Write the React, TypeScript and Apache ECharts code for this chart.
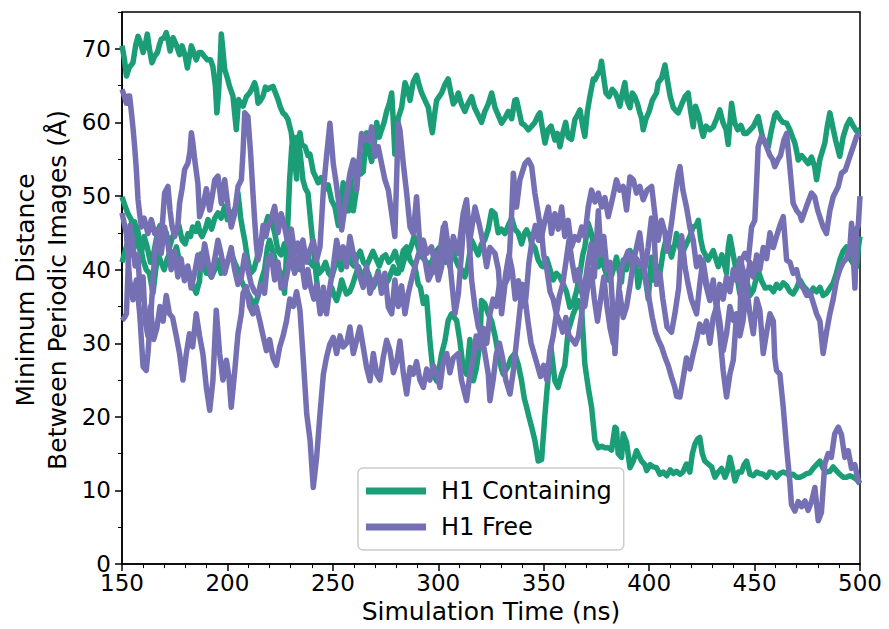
import React, { useEffect, useRef } from "react";
import * as echarts from "echarts";

// ---- Data (time in ns, distance in Å) ----
const containingA: [number, number][] = [
  [150, 70.4], [151.2, 68.5], [152.1, 66.3], [153.5, 67.5], [155.2, 68.1], [156.5, 70.5], [157.6, 71.7], [158.8, 70.8],
  [160, 69.5], [161, 70.5], [162, 72], [163, 70], [164.2, 68.1], [165.5, 69], [166.8, 69.5], [167.7, 70.5], [168.6, 71.3],
  [170, 71.5], [171, 72.2], [172, 71], [172.8, 69.7], [173.5, 70.5], [174.2, 71.5], [175.8, 70.5], [177.3, 69.2],
  [178.5, 70.4], [180, 69], [181, 67.4], [182, 69], [182.9, 70.4], [184, 69.5], [185.2, 68.5], [186.5, 69.5],
  [187.6, 69.5], [189, 69], [190.5, 68.5], [192, 68.5], [193.1, 67.6], [194.3, 64.9], [195, 61.3], [195.8, 64],
  [196.5, 68], [197.1, 72], [197.8, 70], [198.7, 67.2], [200, 66], [201, 64.9], [202.6, 63.6], [203.5, 61], [204.2, 59],
  [205.3, 63.1], [206.5, 62.5], [207.4, 62.2], [209, 63.5], [210.5, 64], [211.5, 64.5], [212.9, 65.4], [213.8, 64.5],
  [214.5, 62.6], [215.7, 63], [216.9, 63.6], [218, 64.8], [219.2, 64.5], [220.2, 64.7], [221.6, 64.9], [222.8, 64],
  [224, 63.1], [225.2, 62], [226.3, 61.3], [227.5, 61], [228.7, 60.4], [230.3, 58.6], [231.2, 56], [231.9, 54.9],
  [232.8, 52.3], [233.4, 56.7], [234.4, 58.6], [235.2, 57], [236.8, 56.7], [238.2, 55.5], [239.1, 55.7], [240.7, 53.3],
  [242, 52.5], [243, 51.8], [244.5, 52.5], [246.3, 50.9], [247.8, 51.5], [249.4, 49.4], [251, 48.5], [252.6, 46],
  [254, 49], [254.9, 51.8], [256, 48], [257.3, 48], [258.1, 52.8], [259.7, 48], [261, 50.5], [262, 54.7], [263.2, 53],
  [264.4, 53.3], [265.2, 56], [266, 58.6], [267.2, 56], [268.4, 54.7], [269.6, 57], [270.8, 60], [272, 58], [273.1, 59],
  [274.3, 60], [275.5, 61.5], [276.7, 62.5], [277.9, 64], [278.7, 60], [279.4, 55.7], [280.2, 58], [281, 60.6],
  [282.6, 62], [284.2, 65.4], [285.4, 64.5], [286.6, 63], [288.1, 65.5], [289.7, 66.4], [291, 65], [292.1, 64],
  [293.7, 63], [295.3, 62], [296.3, 60], [297.2, 58.6], [298.2, 61], [299.2, 63], [300.4, 63.5], [301.6, 64],
  [303.2, 65.2], [304.7, 65.9], [306, 64], [307.1, 62.5], [308.3, 63], [309.5, 64], [311, 62.5], [312.6, 61.5],
  [314, 62.5], [315.8, 63.5], [317.2, 62], [318.9, 61], [320.5, 60], [322.1, 61.5], [323.7, 62.5], [325.3, 64],
  [326.9, 62], [328.4, 61], [330, 59.9], [331.6, 60.6], [333.2, 61.5], [334.8, 60.5], [336.3, 63], [337.1, 63.1],
  [338.7, 61], [339.5, 59.9], [341, 59.6], [342.7, 59], [344.3, 59.5], [345.8, 60], [347.4, 61], [348.2, 61.3],
  [349.5, 59], [350.6, 57.2], [352, 59], [353.5, 59.5], [355.3, 57.6], [356.5, 58.5], [357.7, 56.7], [359, 58.5],
  [360.4, 60], [361.6, 58], [363.2, 57.7], [364.8, 60.4], [366, 61], [367.2, 61.7], [368.5, 59.5], [369.5, 58.1],
  [370.7, 61.5], [371.9, 63.5], [373.5, 65.9], [374.3, 65.8], [375.5, 66.5], [376.6, 67], [377.4, 68.3], [378.5, 66],
  [379.5, 64], [381, 63.5], [382.5, 64.5], [384, 64], [385.3, 63], [386.1, 62.2], [387.3, 64], [388.5, 65.4],
  [389.5, 63], [390.9, 62], [392, 64], [393.2, 63.5], [394.5, 62.5], [395.6, 61.3], [396.4, 60.6], [397.2, 59],
  [398.5, 60.5], [400, 61.5], [401.5, 63], [403.5, 64], [404.3, 65.4], [405.9, 66], [407.5, 67.8], [408.5, 66],
  [410, 63.5], [411.5, 62], [413, 61.5], [413.8, 61.3], [415.5, 62.5], [417, 63.5], [418.5, 64], [419.7, 61.5],
  [420.9, 59.4], [422, 62.2], [423.5, 61], [424.8, 59], [425.6, 58.1], [427, 59.5], [428.8, 59], [430.4, 59.4],
  [432, 60.5], [433.5, 61.7], [435, 60], [436.5, 59], [437.5, 57], [438.3, 60], [439.1, 62.6], [440.5, 60], [442, 59],
  [443.5, 59.6], [445, 58.5], [446.2, 58.5], [448, 59], [449.5, 59.5], [451.7, 60.8], [453, 59], [454.1, 57.6],
  [455.3, 57], [456.5, 56.7], [458, 59], [459.6, 61], [460.4, 61.3], [462, 60.5], [463.5, 60], [465.2, 59.9],
  [466.7, 59], [468, 58], [469.1, 57.2], [470, 56], [470.7, 54.9], [472.3, 55.5], [473.8, 55], [475.4, 54.4],
  [477, 55.3], [478.5, 54], [479.4, 52.2], [481, 55], [483.3, 57.2], [484.5, 59.5], [485.7, 61.3], [487, 59.5],
  [488.5, 57.5], [490.4, 55.4], [492, 58], [493.6, 59.5], [495.2, 60.4], [496.8, 59.5], [498.4, 58.8], [500, 59],
];

const containingB: [number, number][] = [
  [150, 49.9], [151.5, 48.6], [153, 47.5], [154.4, 46.8], [155.5, 44], [156, 43.1], [157.2, 45.8], [158.5, 43.5],
  [160, 41.3], [161.5, 40], [163, 39.5], [164.7, 36.8], [166, 40], [167, 42.2], [168.5, 41], [170, 40], [171.5, 41.5],
  [173, 42.5], [174.5, 42], [175.8, 43.1], [177, 41.5], [178.5, 40], [180, 39], [181.5, 40], [183.5, 38], [185.2, 36.8],
  [186.8, 38.5], [187.6, 42.2], [189, 40.5], [190, 39.5], [191.5, 39.5], [192.4, 39], [194, 40], [195.5, 41.3],
  [197, 39.5], [198.5, 40], [200.3, 41.3], [201.8, 42.2], [203.4, 41], [205, 40], [206.6, 38.5], [208.2, 37.5],
  [209.7, 36.8], [211.3, 35.9], [212.9, 35], [214.5, 36.4], [216, 38.5], [217.6, 40], [219, 43], [220, 44],
  [221.5, 42.5], [223, 41], [224.3, 40], [225.5, 39.5], [227.1, 36.8], [228.3, 44], [229.5, 52.2], [230.5, 56.7],
  [231.5, 58], [232.5, 57], [233.4, 58], [234.4, 56], [235.8, 52.2], [237, 51], [238.2, 50.4], [239.5, 46.5],
  [240.7, 43.1], [242.3, 38.6], [243.9, 34.9], [245.5, 34.5], [247, 35.8], [248.2, 36.5], [249.4, 37.6], [250.6, 36.5],
  [251.8, 35.8], [253, 37], [254.2, 38.6], [255.4, 37.5], [256.5, 36.7], [258, 37], [259.4, 38], [260.5, 39],
  [262.1, 40.4], [263.2, 39.5], [264.4, 39], [265.6, 40], [266.8, 39.5], [268, 38.5], [269.2, 37.6], [270.5, 38.5],
  [271.5, 39.8], [272.7, 38.2], [273.9, 37.6], [275, 38], [276.3, 38.6], [277.5, 39.5], [278.7, 40.4], [279.9, 39.5],
  [281, 39.5], [282.2, 41], [283.4, 42.6], [285, 43.1], [286.6, 41.3], [288.9, 40.4], [290.5, 38], [291.5, 37.6],
  [292.9, 35.4], [294.4, 36.3], [296, 30.4], [297.6, 25.8], [299.2, 24.9], [300.4, 26.5], [301.6, 28.6], [303.2, 30.4],
  [304.7, 33.1], [306.3, 34], [307.5, 33.5], [308.7, 33.1], [310.2, 30.4], [311.8, 26.7], [313.4, 25.8], [315, 30.5],
  [316.6, 24.9], [318, 26.5], [319.75, 30], [320.5, 35.8], [322, 35.4], [323.7, 34], [325.3, 33], [326.9, 31],
  [328.4, 28.6], [330, 26.5], [330.8, 25.8], [333, 26.8], [334.5, 28], [336.3, 28.6], [338, 27], [339.5, 24.9],
  [340.8, 22.5], [341.9, 21.3], [343, 20], [344.3, 18.6], [345.8, 16.8], [347.4, 14], [349, 14.2], [350.6, 20.4],
  [352.2, 25.8], [353.4, 29.5], [355.3, 24.9], [356.8, 24], [358.5, 25.8], [360, 27], [361.6, 31.7], [363, 33],
  [364, 34], [365.5, 35], [366.4, 35.8], [368, 34.5], [369.5, 27.2], [371.1, 24], [372.7, 21.3], [374.3, 16.8],
  [375.9, 15.8], [377.5, 16], [379, 15.8], [380.6, 15.8], [382.2, 15.5], [383.8, 18.6], [384.5, 18.4], [385.3, 15],
  [386.9, 14.5], [387.7, 17.7], [389.3, 16.5], [390.9, 13.1], [392.5, 14], [394, 15.4], [395.5, 14.5], [396.4, 14],
  [398, 13.5], [398.8, 12.7], [400.5, 13.5], [402, 13.2], [403.5, 13.1], [405.1, 12.2], [406.7, 12.5], [408.3, 12],
  [410, 12.8], [411.5, 12.3], [413, 12.6], [414.6, 12.2], [416, 12.5], [417.7, 13.6], [419.3, 12.5], [420.5, 15],
  [421.7, 16.3], [423, 17], [424, 17.2], [425.2, 15], [426.4, 14], [428, 13.6], [429.6, 13.2], [431.2, 11.8],
  [432.8, 12.5], [434.4, 13], [436, 11.8], [437, 12.5], [438.3, 14.5], [439.5, 13], [440.7, 11.3], [442.3, 12.5],
  [443.8, 12.5], [445, 13.5], [446.2, 14], [447.8, 12.2], [449.4, 12], [451, 12.5], [452.5, 12.3], [454.1, 12.2],
  [455.7, 11.8], [457.3, 12.5], [458.9, 12.4], [460.4, 11.8], [462, 12.3], [463.6, 12.5], [465.2, 12.3], [466.8, 12],
  [468.3, 12.2], [469.9, 11.8], [471.5, 11.8], [473.1, 12], [474.7, 12.3], [476.2, 12.4], [477.8, 13], [479.4, 13.5],
  [481, 14], [482.5, 13], [484.1, 12.5], [485.7, 12.6], [487.3, 13.2], [488.8, 12.7], [490.4, 12.2], [492, 11.8],
  [493.6, 11.8], [495.2, 12], [496.8, 11.8], [498.4, 11.5], [500, 10.9],
];

const containingC: [number, number][] = [
  [150, 41], [151.5, 42.5], [153, 44], [154.5, 45.5], [156, 46.5], [157.5, 44], [159, 42], [160.5, 44.5], [162, 43],
  [163.5, 41], [165, 42.2], [166.5, 44.5], [168, 46], [169.5, 44], [171, 45], [172.5, 43], [174, 44.5], [175.5, 45],
  [177, 46], [178.5, 44], [180, 43.5], [181.3, 44.9], [182.5, 44.5], [183.5, 45.8], [185, 45.2], [186, 46.3], [187, 45],
  [188, 44.5], [189.5, 45.5], [190.8, 46.8], [192.5, 45.5], [194, 47], [195.5, 47.7], [197, 47], [198.7, 48.6],
  [200, 46.8], [201.5, 47.5], [203.4, 48.1], [204.5, 49], [205, 50.4], [206.3, 47], [207.2, 45.5], [208.2, 44],
  [209.5, 41.5], [211, 39.5], [212.5, 40], [214, 41.5], [215.5, 43], [217, 45], [218.5, 46.5], [219.2, 47.2],
  [220.8, 46.8], [222.4, 45], [224, 42.5], [225.5, 42], [227, 43.5], [228.5, 42], [230, 41], [231.5, 40], [233, 41.5],
  [234.5, 40], [236, 41.5], [237.5, 42.5], [239, 41], [240.5, 40.5], [242, 41.5], [243.5, 39.5], [245, 40], [246.5, 41],
  [248, 39.5], [249.5, 39], [251, 40.5], [252.5, 41.5], [254, 40], [255.5, 41.5], [257, 42.5], [258.5, 41], [260, 40.5],
  [261.5, 41.8], [263, 42.5], [264.5, 41], [266, 40.5], [267.5, 41.5], [269, 42.5], [270.5, 41.5], [272, 40.5],
  [273.5, 41.7], [275, 42], [276.5, 41], [278, 41.5], [279.5, 42.5], [281, 41], [282.5, 40], [284, 41.5], [285.5, 42],
  [287, 43], [288.5, 44.5], [290, 43.5], [291.5, 42], [293, 41.5], [294.5, 41], [296, 40.5], [297.5, 41.5], [299, 42.5],
  [300.5, 43], [302, 42], [303.5, 41], [305, 42], [306.5, 43], [308, 41.5], [309.5, 40.5], [311, 40], [312.6, 39],
  [314, 40.5], [315.8, 44], [317.4, 43], [318.9, 42], [320.5, 43.5], [322, 44], [323.7, 45.5], [325.3, 48], [326.9, 47.6],
  [328.4, 45], [330, 45.5], [331.6, 44.9], [333.2, 46], [334.8, 47], [336.3, 45.5], [337.9, 45], [339.5, 43.5], [341, 45],
  [341.9, 45.4], [343.5, 44.5], [344.2, 43.6], [345.8, 43], [347.4, 41.3], [349, 40.5], [349.8, 40.4], [351.4, 41.5],
  [353, 40], [354.5, 38.6], [356, 39.5], [357.7, 39], [359.3, 38], [360.8, 37], [362.4, 34.9], [364, 35.5], [365.5, 37],
  [367.2, 39.5], [368.5, 42], [369.5, 43.1], [371.1, 46.3], [372.5, 45], [374, 43], [375.9, 40.4], [377.5, 41.5],
  [379, 40], [380.6, 38.6], [382.2, 39.2], [383.5, 40.5], [384.5, 41.7], [386, 39.5], [386.9, 38.3], [387.7, 41.3],
  [389.3, 40], [390.9, 42.6], [392.5, 41.5], [394, 40], [394.8, 37.6], [396.4, 40], [398, 39.2], [399.6, 36],
  [401.1, 41.7], [402, 38.6], [403.5, 39], [404.3, 40.4], [405.1, 39.5], [406.7, 42.5], [408.3, 44.5], [410.6, 41.7],
  [412.2, 43.5], [413, 44.9], [415.4, 42], [417.7, 43.5], [419.3, 44.5], [420.9, 45.8], [422.3, 46], [423.3, 46.7],
  [424.5, 44], [425.6, 42.6], [428, 41.3], [430.4, 42.6], [432.8, 40.4], [434.5, 42], [436.7, 39.5], [437.5, 43],
  [438.3, 44.5], [439.9, 42], [441.5, 39.5], [443, 36.7], [444.5, 37.5], [446.2, 38.6], [447.8, 36.5], [449.4, 37.2],
  [451.7, 39.9], [453.3, 38.5], [455, 37.5], [457.3, 37.6], [459, 37], [460.4, 38], [462, 37.5], [463.6, 38.2],
  [465.2, 37.8], [466.8, 37], [468.3, 36.7], [469.9, 37.5], [471.5, 38.6], [473.1, 37.8], [474.7, 37.3], [476.2, 36.5],
  [477.8, 37.5], [479.4, 37], [481, 37.6], [482.5, 36.5], [484.1, 36.8], [485.7, 37.5], [487.3, 38.2], [488.8, 39.5],
  [490.4, 41.3], [492, 42.5], [493.6, 43.1], [495.2, 41.5], [496.8, 40.8], [498.4, 40.4], [499.2, 43], [500, 44.5],
];

const freeA: [number, number][] = [
  [150, 64.5], [151.2, 63.5], [152.1, 62.6], [153, 63.6], [153.6, 63.6], [154.5, 61.3], [155.3, 59], [156, 56.7],
  [156.8, 53.6], [157.6, 49.5], [158.4, 47.5], [159.2, 45.8], [160.5, 47], [162.3, 44.9], [163.9, 46.8], [165.5, 44.9],
  [167, 45.5], [168.6, 44], [170.2, 50.4], [171.8, 51.3], [172.8, 48], [173.7, 46], [175, 44.5], [176.5, 46], [177.3, 49],
  [178.5, 51], [179.7, 53.6], [181.3, 54.5], [182.2, 56], [182.9, 58.6], [183.7, 57], [184.5, 54.9], [186, 51.7],
  [186.8, 47.2], [188.4, 48.6], [190, 51], [191.6, 48.1], [192.8, 50], [194, 52.2], [195.5, 52.7], [197.1, 49],
  [198.7, 52.2], [200.3, 48.5], [201.8, 45.8], [203.4, 47.6], [205, 51.3], [206.6, 52.2], [207.4, 56], [208.2, 61.3],
  [209.7, 60.8], [211, 55.8], [212.1, 50.4], [212.9, 46.8], [213.7, 43.5], [214.5, 41.3], [215.5, 42.5], [216.9, 46],
  [218.2, 44.5], [219.2, 45.8], [220.8, 47], [222.4, 48.6], [224, 45], [225.5, 47.6], [227.1, 45.8], [228.7, 43.5],
  [230.3, 45.5], [231.9, 42.2], [233.4, 43.6], [234.2, 42.7], [235.8, 44], [237.6, 41], [239, 42.5], [240.7, 44],
  [242.3, 41.3], [243.9, 43.1], [245.5, 50.8], [247, 55.4], [248.6, 59.9], [250.2, 54.4], [251.8, 51.3], [253.4, 47.6],
  [254.2, 45.4], [255.7, 48.5], [258.1, 53.1], [259.7, 54.9], [261.3, 50.8], [262.5, 55], [263.6, 58.5], [264.8, 57.5],
  [266, 58.1], [267.2, 57.5], [268.4, 59.4], [270, 55.4], [271.5, 56.7], [273.1, 54.4], [274.7, 52.2], [276.3, 50.8],
  [277.9, 47.6], [279.4, 44.5], [280.2, 52], [281, 59.9], [281.8, 59], [283.4, 54.4], [285, 50.4], [286.6, 45.8],
  [288.1, 44.9], [289.7, 49.9], [291.3, 43.1], [292.9, 44], [294.5, 42.2], [296.8, 43.1], [299.2, 39.5], [300.8, 42.2],
  [302.4, 45.8], [304, 42.2], [305.5, 40.4], [307.1, 44.5], [309.5, 42.2], [311.8, 47.6], [313.4, 49.5], [315, 44],
  [317.4, 48.5], [319.7, 45.8], [321, 44], [322.9, 40.4], [324.5, 43], [326.9, 42.2], [328.5, 40], [330, 34], [331.6, 38],
  [333.2, 39], [334.8, 47.6], [335.6, 53.1], [337.1, 48.5], [338.7, 52.2], [341.1, 54.4], [342.7, 54.9], [344.3, 54],
  [345.8, 50.4], [347.4, 47.6], [349, 44.5], [350.6, 46.7], [352.2, 48.5], [353.7, 44.9], [355.3, 47.6], [356.9, 45.5],
  [358.5, 48.5], [360, 44.5], [361.6, 46.7], [363.2, 43.1], [364.8, 44.5], [366.4, 44], [368, 45.8], [369.5, 44.5],
  [371.1, 48.5], [372.7, 50.8], [374.3, 49.2], [375.9, 50.4], [377.5, 48.5], [379, 49.8], [380.6, 47.2], [382.5, 49.5],
  [384.5, 52.2], [386, 50.8], [387.7, 51.3], [389.3, 48.1], [390.9, 52.6], [392.5, 52.2], [394, 50.4], [395.6, 51.3],
  [397.2, 49.5], [399, 50.8], [401.2, 51.3], [402.7, 47.6], [404.3, 44], [405.9, 46.7], [407.5, 45], [408.5, 42.5],
  [410.6, 46.3], [412.2, 49.9], [413.8, 53.1], [414.6, 54], [416, 50.8], [417.7, 48.5], [419.3, 45.8], [420.9, 44],
  [422.5, 40.4], [424, 41.7], [425.6, 39.5], [427.2, 37.6], [428.8, 35.8], [430.4, 38.6], [432, 34.5], [433.5, 31.3],
  [435.1, 26.3], [436.7, 22.7], [438.3, 25.8], [439.9, 27.7], [441.5, 34], [443, 32.6], [443.8, 41.3], [445.4, 42.2],
  [447, 41.3], [448.6, 45.8], [450.1, 46.7], [451, 52], [451.7, 56.7], [453.3, 58.1], [454.9, 57.5], [455.7, 56.7],
  [457.3, 55.5], [458.5, 55], [459.6, 54], [461.2, 55], [462.3, 55.5], [463.9, 57.6], [465.2, 58.5], [466.7, 54],
  [468.3, 49], [470, 48], [471.5, 47.5], [472.3, 46.7], [474.5, 48.5], [477, 50.4], [478.5, 49.9], [480, 48],
  [482.5, 45.8], [484.1, 44.9], [485.7, 48], [487.3, 49.9], [489.7, 51.3], [491.2, 53.1], [493, 53.5], [495.2, 55.4],
  [496.8, 56.7], [498.4, 58.1], [500, 58.5],
];

const freeB: [number, number][] = [
  [150, 47.7], [152.1, 44.9], [153.6, 38.6], [155.2, 35.9], [156.8, 38.6], [158.4, 34], [160, 26.8], [161.5, 26.3],
  [162.3, 28.6], [163.9, 34.9], [165.5, 42.2], [167.1, 44.9], [168.6, 42.2], [170.2, 45.8], [171.8, 43.5], [173.3, 40],
  [174.9, 42.5], [176.5, 39], [178, 41.5], [179.6, 38.5], [181.2, 40.5], [182.8, 37.5], [184.4, 39.5], [186, 42],
  [187.6, 40], [189.2, 43.5], [190.8, 41], [192.4, 39], [194, 41.5], [195.5, 44], [197.1, 42], [198.7, 39.5],
  [200.3, 41.3], [201.8, 43], [203.4, 40], [205, 38], [206.6, 39], [208.2, 42], [209.7, 40], [211.3, 38], [212.9, 37],
  [214.5, 36.5], [216, 38], [217.6, 36.8], [219.2, 41.5], [220.8, 42], [222.4, 38.6], [224, 41], [225.5, 37.5],
  [227.1, 37.7], [228.7, 40], [230.3, 43.1], [231.9, 39.5], [233.4, 41], [234.4, 42.7], [236.8, 37.6], [238.2, 40],
  [239.5, 37.6], [241, 36], [242.3, 38], [244, 34], [245.5, 37.6], [247, 34], [248.6, 37.6], [250.2, 40.4], [251.8, 44],
  [253.4, 41.5], [254.9, 43.1], [256.5, 40.4], [258.1, 44.5], [259.7, 42.2], [261.3, 40.5], [262.8, 39], [264.4, 37.6],
  [266, 40.4], [267.6, 36.8], [269.2, 38], [270, 38.6], [271.5, 39.5], [273.1, 36.8], [274.7, 39.5], [276.3, 34.9],
  [277.9, 34], [279.4, 38.6], [281, 35], [282.6, 37.8], [284.2, 34], [285.8, 36.8], [287.3, 38.6], [288.9, 40.4],
  [290.5, 42], [292.1, 43.1], [293.7, 41.3], [295.3, 38.6], [296.8, 39.5], [298.4, 42.2], [300, 38.6], [301.6, 40.4],
  [303.2, 46.3], [304.7, 43.1], [306.3, 38.6], [307.9, 34], [309.5, 36.7], [311, 42.2], [312.6, 48.5], [314.2, 45.8],
  [315.8, 38.6], [317.4, 34.9], [319, 32.2], [320.5, 31.3], [322.1, 28.6], [323.7, 25.8], [324.5, 22.2], [326, 25],
  [327.5, 28.5], [329, 30], [330.5, 28], [332, 25], [334, 23.1], [335.5, 26], [337, 30], [338.5, 34], [340, 38],
  [341.5, 36], [343, 41], [344.5, 44], [346, 46], [347.5, 44], [348.5, 46.5], [350, 42], [351.5, 40], [353, 37],
  [354.5, 36], [356, 34], [357.5, 33], [359, 31.5], [360.5, 33.5], [362, 31], [363.5, 30.5], [365, 29.9], [366.5, 31],
  [368, 34], [369.5, 38], [371, 41], [372.5, 43.5], [374, 39], [375.9, 48], [377.2, 42], [378.5, 44.5], [380, 40],
  [381.5, 41], [383.8, 28.6], [385.3, 36], [386.5, 40], [388, 41], [390, 42.5], [392, 40.5], [394, 41.5], [396, 40.5],
  [398, 40.2], [399.5, 43], [401.1, 47], [402.5, 44], [403.5, 38], [405.1, 39.5], [406.5, 36], [408.5, 32.2],
  [410.6, 31.5], [412.2, 34], [414, 37.5], [415.4, 44.6], [417, 40.4], [418.5, 38], [420, 36], [422.5, 34], [424, 38],
  [425.5, 41.3], [427, 38.5], [428.8, 36.5], [430.4, 37.5], [432, 35.5], [433.5, 33], [435.1, 29], [436.7, 31.3],
  [438.3, 35], [439.9, 33.1], [441.5, 34], [443, 31], [444.5, 33], [446.2, 37.6], [447.8, 34], [449.4, 31.3], [451, 36],
  [452.5, 34.5], [454.1, 28.6], [455.7, 31.5], [457.3, 34], [458.9, 33], [459.6, 28], [460.4, 26.3], [462, 25.8],
  [463.6, 21.3], [465.2, 15.8], [466.7, 11.3], [467.5, 8.1], [469.1, 7.2], [470.7, 8.5], [472.3, 7.8], [473.9, 8.6],
  [475.4, 7.3], [477, 8.5], [478.6, 10.4], [480.2, 5.9], [481.7, 7], [483.3, 13.6], [484.9, 15], [486.4, 14.5],
  [488, 17.7], [489.7, 18.6], [491.2, 17.6], [492.8, 14.5], [494.4, 15.4], [496, 13], [497.6, 13.5], [499.1, 11.3],
  [500, 11],
];

const freeC: [number, number][] = [
  [150, 33.1], [151.2, 33.5], [152.1, 34], [153, 41], [153.8, 46], [155, 44], [156.2, 40.5], [157.5, 42], [158.8, 36],
  [160, 39], [161, 33], [162.3, 31], [163.5, 35], [165, 30.5], [166.5, 32], [168, 35], [169.5, 33], [171, 36.5],
  [172.5, 34], [174, 33.5], [175.8, 30.9], [177.3, 28.6], [178.9, 25], [180.5, 28.6], [182, 31.3], [183.5, 29.5],
  [185.2, 34], [186.8, 31], [188.4, 28.5], [190, 24], [191.6, 20.9], [193.1, 24.9], [194.7, 34.5], [196.3, 28.6],
  [197.9, 25], [199.5, 27.7], [200.7, 25.5], [201.8, 21.3], [203.4, 26], [205, 31.3], [206.6, 34], [207.4, 36.8],
  [209, 37.7], [210.5, 35], [212.1, 34], [213.7, 35], [215.3, 33.1], [216.9, 31], [218.5, 29], [220, 30.5], [221.6, 28],
  [223.2, 27], [224.8, 29.5], [226.4, 31], [228, 33], [229.6, 36], [231.2, 35], [232.8, 37], [234.4, 34.5], [236, 27.7],
  [237.6, 20.4], [239.2, 16.8], [240.7, 10.4], [242.3, 14.5], [243.9, 20.4], [245.5, 25.8], [247, 28.1], [248.6, 29.9],
  [250.2, 30.8], [251.8, 28.6], [253.4, 31], [254.9, 29.5], [256.5, 30], [258.1, 32.2], [259.7, 28.6], [261.3, 30.4],
  [262.8, 32.2], [264.4, 29.5], [266, 26.7], [267.6, 24.9], [269.2, 28.6], [270.8, 25.8], [272.3, 25], [273.9, 28.1],
  [275.5, 30.4], [277.1, 29], [278.7, 26], [280.3, 27.5], [281.8, 30.3], [283.4, 26], [285, 23.1], [286.6, 26.7],
  [288.1, 25.8], [289.7, 27.5], [291.3, 25], [292.9, 24], [294.5, 26.5], [296, 25], [297.6, 27], [299.2, 26], [300.8, 24],
  [302.4, 27.7], [304, 28.6], [305.5, 26], [307.1, 28], [309.5, 28.6], [311, 25], [313.4, 22.2], [315, 25.8], [316.6, 28],
  [318, 31], [319.7, 29.5], [321.5, 32], [323, 30], [324.5, 34], [326, 36], [327.5, 35], [329, 38], [330.5, 36],
  [332, 39.5], [333.5, 42], [335, 40], [336.5, 36], [338, 38.5], [339.5, 35], [341, 36.5], [342.5, 33], [344, 30],
  [345.5, 28.5], [347, 27], [348.5, 25.5], [350, 27], [351.5, 25], [353, 29], [354.5, 31], [356, 34], [357.5, 36.5],
  [359, 38], [360.5, 41], [362, 44], [363.5, 41], [365, 38.5], [366.5, 40], [368, 37], [369.5, 35], [371, 38], [372.5, 40],
  [374, 36], [375.5, 33], [377, 36], [378.5, 39], [380, 35], [381.5, 32], [383, 30], [384.5, 34], [386, 37], [387.7, 33.5],
  [389.3, 35], [391, 38], [392.5, 41], [394, 43], [395.5, 45], [397, 41.5], [398.5, 38.5], [400, 36], [401.5, 33.5],
  [403, 31.5], [404.3, 30.5], [405.9, 29.5], [407.5, 28.1], [409, 27], [410.6, 25.4], [412.2, 24], [413, 22.8],
  [414.6, 22.7], [416, 25], [417.7, 28], [419.3, 26.5], [420.9, 28.6], [422.5, 30.5], [424, 32.6], [425.6, 31.5],
  [427.2, 33], [428.8, 30], [430.4, 33.5], [432, 35], [433.5, 38], [435.1, 36], [436.7, 39], [438.3, 37], [439.9, 40],
  [441.5, 38.5], [443, 41.5], [444.5, 40], [446.2, 38], [447.8, 41], [449.4, 39], [451, 42], [452.5, 40], [454.1, 43],
  [455.7, 41.5], [457.3, 45], [458.9, 43], [460.4, 44.5], [462, 46], [463.6, 47.2], [465.2, 41.3], [466.8, 41],
  [468.3, 39.5], [469.9, 40], [471.5, 38], [473.1, 37.5], [474.7, 36.5], [476.2, 37], [477.8, 35.5], [479.4, 34],
  [481, 33], [482.5, 28.6], [484.1, 31.5], [485.7, 34], [487.3, 36], [488.8, 38.5], [490.4, 40], [492, 41],
  [493.6, 41.5], [495.2, 43], [496, 46.3], [497.6, 37.5], [498.4, 45.5], [499.2, 46], [500, 50],
];

const xTicks = [150, 200, 250, 300, 350, 400, 450, 500];
const yMajorTicks = [0, 10, 20, 30, 40, 50, 60, 70];
const yMinorTicks = [5, 15, 25, 35, 45, 55, 65, 75];

const GREEN = "#1b9e77";
const PURPLE = "#7570b3";
const FONT = "DejaVu Sans";

export default function App() {
  const ref = useRef<HTMLDivElement>(null);
  useEffect(() => {
    if (!ref.current) return;
    const chart = echarts.init(ref.current, undefined, { renderer: "svg" });
    const mkSeries = (name: string, color: string, data: [number, number][]) => ({
      type: "line",
      name,
      data,
      showSymbol: false,
      symbol: "none",
      color,
      lineStyle: { width: 5.5, color, join: "round", cap: "butt" },
      clip: true,
    });
    chart.setOption({
      animation: false,
      backgroundColor: "#ffffff",
      textStyle: { fontFamily: FONT },
      grid: {
        left: 122, right: 29, top: 12, bottom: 64,
        show: true, borderColor: "#000", borderWidth: 1.5, backgroundColor: "transparent",
      },
      xAxis: {
        type: "value", min: 150, max: 500, interval: 50,
        axisLine: { show: true, lineStyle: { color: "#000", width: 1.5 } },
        axisTick: { show: true, length: 7, lineStyle: { color: "#000", width: 1.5 }, customValues: xTicks },
        minorTick: { show: true, splitNumber: 5, length: 4, lineStyle: { color: "#000", width: 1 } },
        axisLabel: { color: "#000", fontSize: 23, fontFamily: FONT, margin: 7, customValues: xTicks },
        splitLine: { show: false },
        minorSplitLine: { show: false },
        name: "Simulation Time (ns)", nameLocation: "middle", nameGap: 33,
        nameTextStyle: { color: "#000", fontSize: 25, fontFamily: FONT },
      },
      yAxis: [
        {
          type: "value", min: 0, max: 75, interval: 5,
          axisLine: { show: true, lineStyle: { color: "#000", width: 1.5 } },
          axisTick: { show: true, length: 7, lineStyle: { color: "#000", width: 1.5 }, customValues: yMajorTicks },
          axisLabel: { color: "#000", fontSize: 23, fontFamily: FONT, margin: 11, customValues: yMajorTicks,
            formatter: (v: number) => (v % 10 === 0 && v <= 70 ? String(v) : "") },
          splitLine: { show: false },
        },
        {
          type: "value", min: 0, max: 75, interval: 5, position: "left",
          axisLine: { show: false },
          axisTick: { show: true, length: 4, lineStyle: { color: "#000", width: 1 }, customValues: yMinorTicks },
          axisLabel: { show: false },
          splitLine: { show: false },
        },
      ],
      legend: {
        orient: "vertical", left: 358, top: 468,
        data: [{ name: "H1 Containing" }, { name: "H1 Free" }],
        icon: "rect", itemWidth: 60, itemHeight: 7, itemGap: 8,
        padding: [9, 12, 9, 8],
        borderColor: "#cccccc", borderWidth: 1.5, borderRadius: 5,
        backgroundColor: "rgba(255,255,255,0.85)",
        textStyle: { color: "#000", fontSize: 24, fontFamily: FONT, lineHeight: 28, padding: [0, 0, 0, 10] },
      },
      graphic: [
        {
          type: "text", x: 41, y: 290, rotation: Math.PI / 2,
          style: {
            text: "Minimum Distance\nBetween Periodic Images (Å)",
            fontSize: 25, fontFamily: FONT, fill: "#000", align: "center", verticalAlign: "middle", lineHeight: 32,
          },
        },
      ],
      series: [
        mkSeries("H1 Containing", GREEN, containingA),
        mkSeries("H1 Containing", GREEN, containingB),
        mkSeries("H1 Containing", GREEN, containingC),
        mkSeries("H1 Free", PURPLE, freeA),
        mkSeries("H1 Free", PURPLE, freeB),
        mkSeries("H1 Free", PURPLE, freeC),
      ],
    });
    return () => chart.dispose();
  }, []);
  return <div ref={ref} style={{ position: "fixed", left: 0, top: 0, width: 889, height: 629 }} />;
}
